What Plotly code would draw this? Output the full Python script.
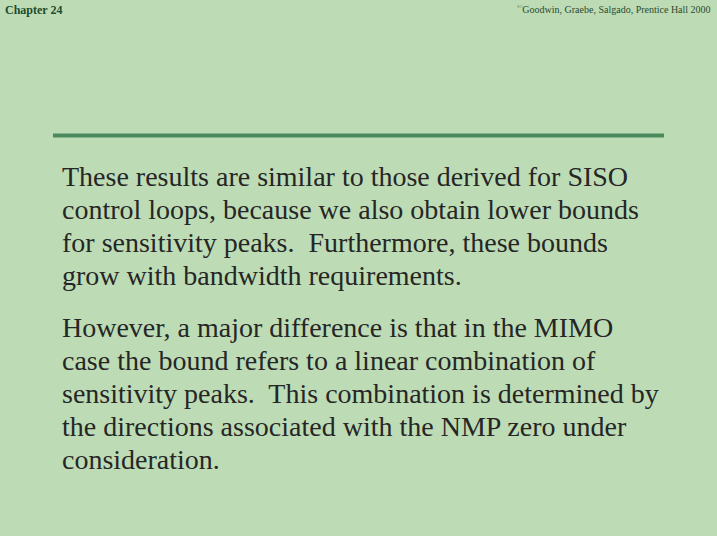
import plotly.graph_objects as go

W, H = 717, 536

header_left = "Chapter 24"
header_right = "<sup>©</sup>Goodwin, Graebe, Salgado, Prentice Hall 2000"

paragraph1 = [
    "These results are similar to those derived for SISO",
    "control loops, because we also obtain lower bounds",
    "for sensitivity peaks.  Furthermore, these bounds",
    "grow with bandwidth requirements.",
]
paragraph2 = [
    "However, a major difference is that in the MIMO",
    "case the bound refers to a linear combination of",
    "sensitivity peaks.  This combination is determined by",
    "the directions associated with the NMP zero under",
    "consideration.",
]
baselines1 = [185, 218, 251, 284]
baselines2 = [336, 369, 402, 435, 468]

SERIF = "Liberation Serif"

def py(pix):
    return 1 - pix / H

def px(pix):
    return pix / W

fig = go.Figure()
annotations = []
for lines, bases in ((paragraph1, baselines1), (paragraph2, baselines2)):
    for t, b in zip(lines, bases):
        annotations.append(dict(
            text=t.replace("  ", "&nbsp; "), x=px(60), y=py(b - 9), xref="paper", yref="paper",
            xanchor="left", yanchor="middle", showarrow=False,
            font=dict(family=SERIF, size=28, color="#262626"),
        ))

annotations.append(dict(
    text="<b>" + header_left + "</b>", x=px(3), y=py(10), xref="paper", yref="paper",
    xanchor="left", yanchor="middle", showarrow=False,
    font=dict(family=SERIF, size=12, color="#1d4d2b"),
))
annotations.append(dict(
    text=header_right, x=px(713), y=py(9), xref="paper", yref="paper",
    xanchor="right", yanchor="middle", showarrow=False,
    font=dict(family=SERIF, size=10, color="#2a4a30"),
))

shapes = [dict(
    type="line", xref="paper", yref="paper",
    x0=px(53), x1=px(664), y0=py(135.5), y1=py(135.5),
    line=dict(color="#4b8a5e", width=4),
)]

fig.update_layout(
    width=W, height=H,
    margin=dict(l=0, r=0, t=0, b=0),
    paper_bgcolor="#bddcb5", plot_bgcolor="#bddcb5",
    xaxis=dict(visible=False), yaxis=dict(visible=False),
    annotations=annotations, shapes=shapes,
    showlegend=False,
)

fig.write_html("out.html", config={"displayModeBar": False},
               post_script="document.body.style.margin='0px';document.body.style.background='#bddcb5';")
